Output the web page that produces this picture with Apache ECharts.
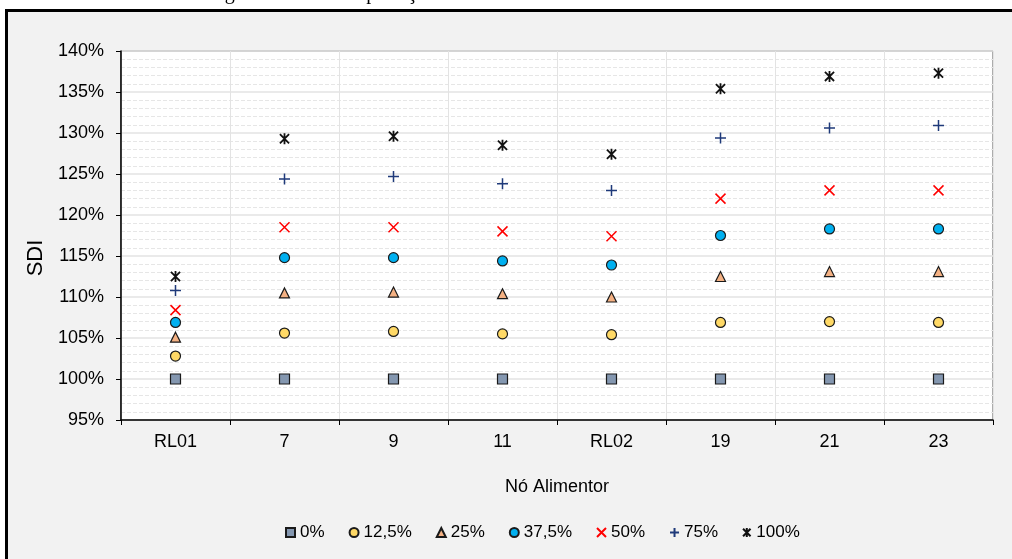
<!DOCTYPE html>
<html>
<head>
<meta charset="utf-8">
<script src="https://cdn.jsdelivr.net/npm/echarts@6/dist/echarts.min.js"></script>
<style>
  html, body { margin: 0; padding: 0; background: #ffffff; }
  #chart { width: 1012px; height: 559px; }
</style>
</head>
<body>
<div id="chart"></div>
<script>
// Feeder nodes along the x axis
const categories = ['RL01', '7', '9', '11', 'RL02', '19', '21', '23'];

// SDI (%) per load level
const sdi0   = [100.0, 100.0, 100.0, 100.0, 100.0, 100.0, 100.0, 100.0];
const sdi125 = [102.8, 105.6, 105.8, 105.5, 105.4, 106.9, 107.0, 106.9];
const sdi25  = [105.1, 110.5, 110.6, 110.4, 110.0, 112.5, 113.1, 113.1];
const sdi375 = [106.9, 114.8, 114.8, 114.4, 113.9, 117.5, 118.3, 118.3];
const sdi50  = [108.4, 118.5, 118.5, 118.0, 117.4, 122.0, 123.0, 123.0];
const sdi75  = [110.8, 124.4, 124.7, 123.8, 123.0, 129.4, 130.6, 130.9];
const sdi100 = [112.5, 129.3, 129.6, 128.5, 127.4, 135.4, 136.9, 137.3];

const seriesNames = ['0%', '12,5%', '25%', '37,5%', '50%', '75%', '100%'];

// Y axis range and step
const yMin = 95, yMax = 140, yStep = 5;

const FONT = 'Liberation Sans, Arial, sans-serif';

const PATH_X = 'path://M0,0L10,10M10,0L0,10';
const PATH_PLUS = 'path://M5,0L5,10M0,5L10,5';
const PATH_STAR = 'path://M0,0L10,10M10,0L0,10M5,-1L5,11';

function pairs(arr) { return arr.map((v, i) => [categories[i], v]); }

function filled(name, values, symbol, fill, size) {
  return {
    name, type: 'scatter', data: pairs(values), symbol, symbolSize: size,
    itemStyle: { color: fill, borderColor: '#1a1a1a', borderWidth: 1.2, opacity: 1 },
    emphasis: { disabled: true }
  };
}
function stroked(name, values, symbol, stroke, size, w) {
  return {
    name, type: 'scatter', data: pairs(values), symbol, symbolSize: size,
    symbolKeepAspect: true,
    itemStyle: { color: stroke, borderColor: stroke, borderWidth: w, opacity: 1 },
    emphasis: { disabled: true }
  };
}

const chart = echarts.init(document.getElementById('chart'), null, { renderer: 'canvas' });

chart.setOption({
  backgroundColor: '#ffffff',
  animation: false,
  graphic: [
    {
      type: 'rect', z: -10, silent: true,
      shape: { x: 6.5, y: 10.5, width: 1100, height: 700 },
      style: { fill: '#f2f2f2', stroke: '#000000', lineWidth: 3 }
    },
    {
      type: 'text', z: -5, silent: true,
      style: {
        x: 208, y: 4, text: 'Figura 30 – SDI da proteção',
        font: '20px "Liberation Serif", "Times New Roman", serif',
        fill: '#000000', textAlign: 'left', textVerticalAlign: 'bottom'
      }
    },
    {
      type: 'text', silent: true,
      x: 36, y: 258, rotation: Math.PI / 2,
      style: {
        text: 'SDI', font: '22px ' + FONT, fill: '#000000',
        textAlign: 'center', textVerticalAlign: 'middle'
      }
    }
  ],
  grid: {
    left: 121, right: 19, top: 51, bottom: 139,
    show: true, backgroundColor: '#ffffff', borderColor: '#595959', borderWidth: 1
  },
  legend: {
    data: seriesNames,
    left: 280, top: 519,
    itemWidth: 9, itemHeight: 9, itemGap: 24,
    textStyle: { fontFamily: FONT, fontSize: 17, color: '#000000' },
    selectedMode: false
  },
  xAxis: {
    type: 'category',
    data: categories,
    boundaryGap: true,
    name: 'Nó Alimentor',
    nameLocation: 'middle',
    nameGap: 58,
    nameTextStyle: { fontFamily: FONT, fontSize: 18, color: '#000000' },
    axisLine: { lineStyle: { color: '#000000', width: 1.5 } },
    axisTick: { show: true, length: 5, lineStyle: { color: '#000000' } },
    axisLabel: { fontFamily: FONT, fontSize: 18, color: '#000000', margin: 13 },
    splitLine: { show: true, lineStyle: { color: '#e3e3e3', width: 1 } }
  },
  yAxis: {
    type: 'value',
    min: yMin, max: yMax, interval: yStep,
    axisLine: { show: true, lineStyle: { color: '#000000', width: 1.5 } },
    axisTick: { show: true, length: 5, lineStyle: { color: '#000000' } },
    axisLabel: { fontFamily: FONT, fontSize: 18, color: '#000000', margin: 17, formatter: '{value}%' },
    splitLine: { show: true, lineStyle: { color: '#e3e3e3', width: 1.5 } },
    minorTick: { show: false, splitNumber: 5 },
    minorSplitLine: { show: true, lineStyle: { color: '#e6e6e6', width: 1, type: [4, 2] } }
  },
  series: [
    filled(seriesNames[0], sdi0, 'rect', '#8497b0', 10),
    filled(seriesNames[1], sdi125, 'circle', '#ffd966', 10),
    filled(seriesNames[2], sdi25, 'triangle', '#f4b183', 10),
    filled(seriesNames[3], sdi375, 'circle', '#00b0f0', 10),
    stroked(seriesNames[4], sdi50, PATH_X, '#ff0000', 10, 1.5),
    stroked(seriesNames[5], sdi75, PATH_PLUS, '#1f3a7a', 11, 1.5),
    stroked(seriesNames[6], sdi100, PATH_STAR, '#111111', 11, 1.8)
  ]
});
</script>
</body>
</html>
